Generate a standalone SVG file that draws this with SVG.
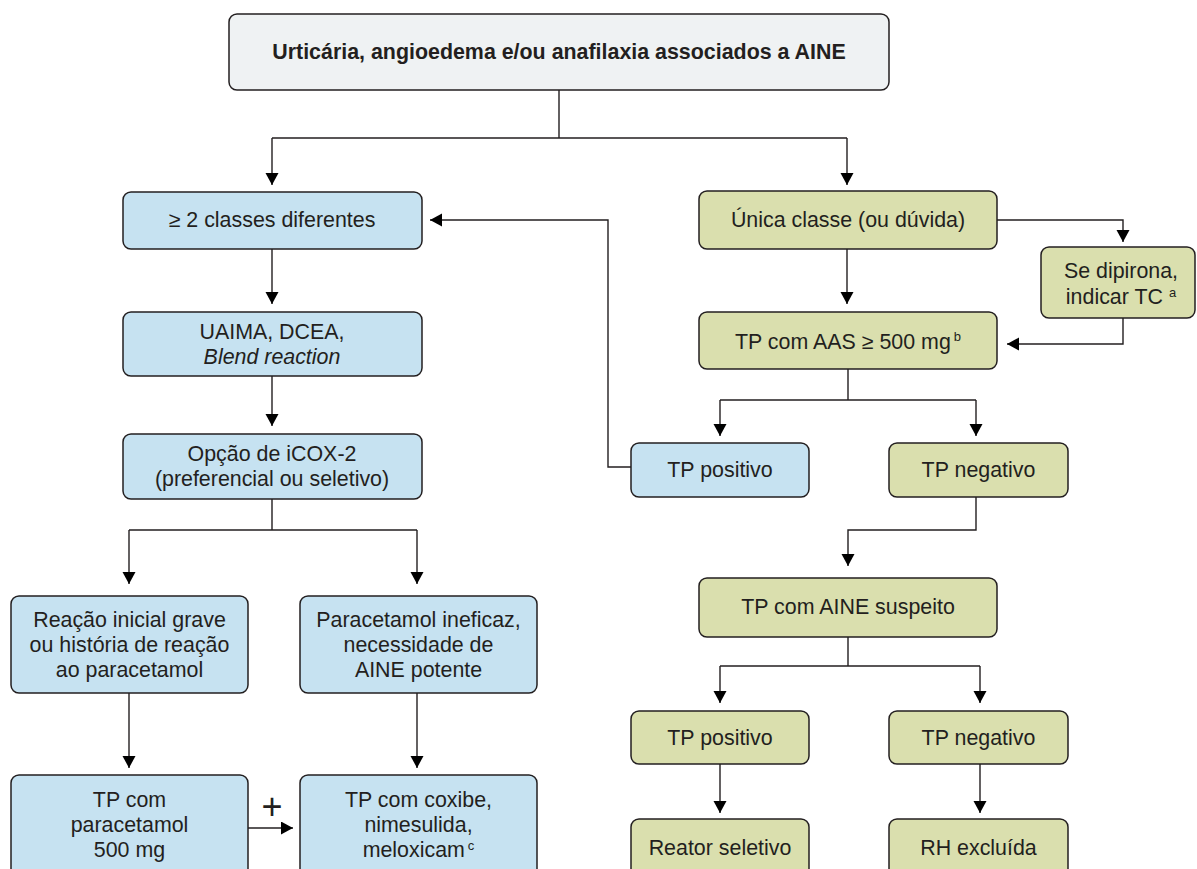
<svg xmlns="http://www.w3.org/2000/svg" width="1197" height="869" viewBox="0 0 1197 869">
<style>
  .box{stroke:#231f20;stroke-width:1.5}
  .blue{fill:#c6e2f1}
  .green{fill:#dadfae}
  .top{fill:#eff2f3}
  text{font-family:"Liberation Sans",Arial,Helvetica,sans-serif;font-size:21.4px;fill:#231f20;text-anchor:middle}
  .b{font-weight:bold}
  .sup{font-size:13px}
  .con{fill:none;stroke:#231f20;stroke-width:1.4}
</style>
<defs>
  <marker id="ah" markerUnits="userSpaceOnUse" markerWidth="14" markerHeight="14" refX="12" refY="6.5" orient="auto">
    <path d="M0,0 L12,6.5 L0,13 z" fill="#000"/>
  </marker>
</defs>
<rect width="1197" height="869" fill="#fff"/>

<g id="connectors">
  <path class="con" d="M559,90 V138 M272,138 H847"/>
  <path class="con" d="M272,138 V185" marker-end="url(#ah)"/>
  <path class="con" d="M847,138 V185" marker-end="url(#ah)"/>
  <path class="con" d="M272,249 V304" marker-end="url(#ah)"/>
  <path class="con" d="M272,376 V426" marker-end="url(#ah)"/>
  <path class="con" d="M272,499 V530 M129,530 H417"/>
  <path class="con" d="M129,530 V584" marker-end="url(#ah)"/>
  <path class="con" d="M417,530 V584" marker-end="url(#ah)"/>
  <path class="con" d="M129,693 V768" marker-end="url(#ah)"/>
  <path class="con" d="M417,693 V768" marker-end="url(#ah)"/>
  <path class="con" d="M248,828 H293" marker-end="url(#ah)"/>
  <path class="con" d="M847,249 V304" marker-end="url(#ah)"/>
  <path class="con" d="M997,220 H1123 V242" marker-end="url(#ah)"/>
  <path class="con" d="M1123,318 V344 H1007" marker-end="url(#ah)"/>
  <path class="con" d="M848,369 V400 M720,400 H976"/>
  <path class="con" d="M720,400 V436" marker-end="url(#ah)"/>
  <path class="con" d="M976,400 V436" marker-end="url(#ah)"/>
  <path class="con" d="M631,467 H608 V220 H430" marker-end="url(#ah)"/>
  <path class="con" d="M976,497 V530 H848 V566" marker-end="url(#ah)"/>
  <path class="con" d="M848,637 V666 M720,666 H980"/>
  <path class="con" d="M720,666 V703" marker-end="url(#ah)"/>
  <path class="con" d="M980,666 V703" marker-end="url(#ah)"/>
  <path class="con" d="M720,764 V813" marker-end="url(#ah)"/>
  <path class="con" d="M980,764 V813" marker-end="url(#ah)"/>
  <text x="272" y="819" style="font-size:36px">+</text>
</g>

<g id="n-top">
  <rect class="box top" x="229" y="14" width="660" height="76" rx="8"/>
  <text class="b" x="559" y="59">Urticária, angioedema e/ou anafilaxia associados a AINE</text>
</g>

<g id="n-classes">
  <rect class="box blue" x="123" y="192" width="299" height="57" rx="8"/>
  <text x="272" y="227">≥ 2 classes diferentes</text>
</g>
<g id="n-uaima">
  <rect class="box blue" x="123" y="312" width="299" height="64" rx="8"/>
  <text x="272" y="339">UAIMA, DCEA,</text>
  <text x="272" y="364" font-style="italic">Blend reaction</text>
</g>
<g id="n-opcao">
  <rect class="box blue" x="123" y="434" width="299" height="65" rx="8"/>
  <text x="272" y="461">Opção de iCOX-2</text>
  <text x="272" y="486">(preferencial ou seletivo)</text>
</g>
<g id="n-reacao">
  <rect class="box blue" x="11" y="596" width="237" height="97" rx="8"/>
  <text x="129.5" y="627">Reação inicial grave</text>
  <text x="129.5" y="652">ou história de reação</text>
  <text x="129.5" y="677">ao paracetamol</text>
</g>
<g id="n-ineficaz">
  <rect class="box blue" x="300" y="596" width="237" height="97" rx="8"/>
  <text x="418.5" y="627">Paracetamol ineficaz,</text>
  <text x="418.5" y="652">necessidade de</text>
  <text x="418.5" y="677">AINE potente</text>
</g>
<g id="n-tp-paracetamol">
  <rect class="box blue" x="11" y="775" width="237" height="110" rx="8"/>
  <text x="129.5" y="807">TP com</text>
  <text x="129.5" y="832">paracetamol</text>
  <text x="129.5" y="857">500 mg</text>
</g>
<g id="n-tp-coxibe">
  <rect class="box blue" x="300" y="775" width="237" height="110" rx="8"/>
  <text x="418.5" y="807">TP com coxibe,</text>
  <text x="418.5" y="832">nimesulida,</text>
  <text x="418.5" y="857">meloxicam<tspan class="sup" dx="3" dy="-7">c</tspan></text>
</g>

<g id="n-unica">
  <rect class="box green" x="699" y="191" width="298" height="58" rx="8"/>
  <text x="848" y="227">Única classe (ou dúvida)</text>
</g>
<g id="n-dipirona">
  <rect class="box green" x="1041" y="247" width="154" height="71" rx="8"/>
  <text x="1121" y="278">Se dipirona,</text>
  <text x="1121" y="304">indicar TC <tspan class="sup" dy="-7">a</tspan></text>
</g>
<g id="n-aas">
  <rect class="box green" x="699" y="312" width="298" height="57" rx="8"/>
  <text x="848" y="349">TP com AAS ≥ 500 mg<tspan class="sup" dx="3" dy="-8">b</tspan></text>
</g>
<g id="n-tp-pos1">
  <rect class="box blue" x="631" y="443" width="178" height="54" rx="8"/>
  <text x="720" y="477">TP positivo</text>
</g>
<g id="n-tp-neg1">
  <rect class="box green" x="889" y="443" width="179" height="54" rx="8"/>
  <text x="978.5" y="477">TP negativo</text>
</g>
<g id="n-aine-suspeito">
  <rect class="box green" x="699" y="578" width="298" height="59" rx="8"/>
  <text x="848" y="614">TP com AINE suspeito</text>
</g>
<g id="n-tp-pos2">
  <rect class="box green" x="631" y="711" width="178" height="53" rx="8"/>
  <text x="720" y="745">TP positivo</text>
</g>
<g id="n-tp-neg2">
  <rect class="box green" x="889" y="711" width="179" height="53" rx="8"/>
  <text x="978.5" y="745">TP negativo</text>
</g>
<g id="n-reator">
  <rect class="box green" x="631" y="819" width="178" height="66" rx="8"/>
  <text x="720" y="855">Reator seletivo</text>
</g>
<g id="n-rh">
  <rect class="box green" x="889" y="819" width="179" height="66" rx="8"/>
  <text x="978.5" y="855">RH excluída</text>
</g>
</svg>
